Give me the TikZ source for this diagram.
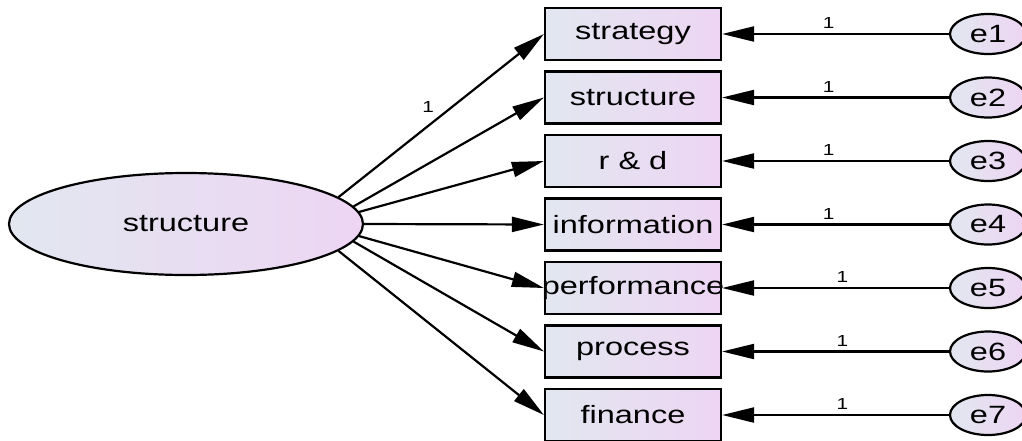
\documentclass[tikz,border=0pt]{standalone}
\usepackage{fontspec}
\setmainfont[FakeStretch=1.3]{Liberation Sans}
\usetikzlibrary{arrows.meta, shapes.geometric}
\definecolor{shadeL}{RGB}{226,231,240}
\definecolor{shadeR}{RGB}{237,213,243}

\begin{document}
\begin{tikzpicture}[x=0.5pt, y=-0.5pt, line width=1.1pt,
	latent/.style={draw, ellipse, inner sep=0pt, minimum width=177pt, minimum height=51pt, left color=shadeL, right color=shadeR, font=\fontsize{12.5}{14}\selectfont},
	observed/.style={draw, rectangle, inner sep=0pt, minimum width=88pt, minimum height=26pt, left color=shadeL, right color=shadeR, font=\fontsize{12.5}{14}\selectfont},
	error/.style={draw, ellipse, inner sep=0pt, minimum width=38pt, minimum height=20pt, left color=shadeL, right color=shadeR, font=\fontsize{12.5}{14}\selectfont},
	loadarrow/.style={-{Triangle[length=16pt, width=7.5pt]}},
	weight/.style={font=\fontsize{8}{9}\selectfont, inner sep=2pt}]
	\useasboundingbox (0,0) rectangle (1022,440);

	\node[latent] (L) at (186,224) {structure};

	\node[observed] (V1) at (633,34) {strategy};
	\node[observed] (V2) at (633,97.5) {structure};
	\node[observed] (V3) at (633,161) {r \& d};
	\node[observed] (V4) at (633,224.5) {information};
	\node[observed, inner xsep=-2.5pt] (V5) at (633,288) {performance};
	\node[observed] (V6) at (633,351.5) {process};
	\node[observed] (V7) at (633,415) {finance};

	\node[error] (E1) at (988,34) {e1};
	\node[error] (E2) at (988,97.5) {e2};
	\node[error] (E3) at (988,161) {e3};
	\node[error] (E4) at (988,224.5) {e4};
	\node[error] (E5) at (988,288) {e5};
	\node[error] (E6) at (988,351.5) {e6};
	\node[error] (E7) at (988,415) {e7};

	% loadings
	\draw[loadarrow] (L.10) -- (V1.west) node[weight, pos=0.49, above left] {1};
	\draw[loadarrow] (L.6) -- (V2.west);
	\draw[loadarrow] (L.4) -- (V3.west);
	\draw[loadarrow] (L.0) -- (V4.west);
	\draw[loadarrow] (L.-4) -- (V5.west);
	\draw[loadarrow] (L.-6) -- (V6.west);
	\draw[loadarrow] (L.-10) -- (V7.west);

	% errors
	\draw[loadarrow] (E1.west) -- (V1.east) node[weight, pos=0.53, above] {1};
	\draw[loadarrow] (E2.west) -- (V2.east) node[weight, pos=0.53, above] {1};
	\draw[loadarrow] (E3.west) -- (V3.east) node[weight, pos=0.53, above] {1};
	\draw[loadarrow] (E4.west) -- (V4.east) node[weight, pos=0.53, above] {1};
	\draw[loadarrow] (E5.west) -- (V5.east) node[weight, pos=0.47, above] {1};
	\draw[loadarrow] (E6.west) -- (V6.east) node[weight, pos=0.47, above] {1};
	\draw[loadarrow] (E7.west) -- (V7.east) node[weight, pos=0.47, above] {1};
\end{tikzpicture}
\end{document}
